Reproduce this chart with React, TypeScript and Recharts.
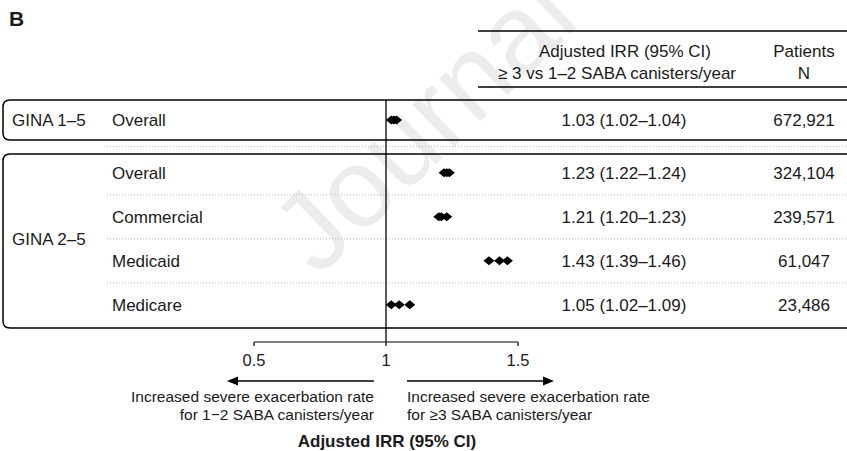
import { Customized, ReferenceLine, Scatter, ScatterChart, XAxis, YAxis } from "recharts";

const GROUP_LABELS = ["GINA 1–5", "GINA 2–5"];
const ROW_GROUP = [0, 1, 1, 1, 1];
const ROW_LABELS = ["Overall", "Overall", "Commercial", "Medicaid", "Medicare"];
const IRR = [1.03, 1.23, 1.21, 1.43, 1.05];
const CI_LOW = [1.02, 1.22, 1.2, 1.39, 1.02];
const CI_HIGH = [1.04, 1.24, 1.23, 1.46, 1.09];
const IRR_TEXT = [
  "1.03 (1.02–1.04)",
  "1.23 (1.22–1.24)",
  "1.21 (1.20–1.23)",
  "1.43 (1.39–1.46)",
  "1.05 (1.02–1.09)",
];
const PATIENTS = ["672,921", "324,104", "239,571", "61,047", "23,486"];
const X_TICKS = [0.5, 1, 1.5];

// layout
const W = 847;
const H = 451;
const FONT = "'Liberation Sans', Arial, Helvetica, sans-serif";
const PLOT_TOP = 100;
const PLOT_BOTTOM = 342;
const PLOT_LEFT = 254;
const PLOT_RIGHT = 518;
const X_AXIS_H = 30;
const FIRST_ROW_Y = 120;
const ROW_PX = 44;
const GROUP_GAP = 0.2;
const COL_IRR = 624;
const COL_N = 804;

const rowPos = ROW_LABELS.map((_, i) => i + GROUP_GAP * ROW_GROUP[i]);
const rowY = (p: number) => FIRST_ROW_Y + p * ROW_PX;
const yDomain = [(PLOT_TOP - FIRST_ROW_Y) / ROW_PX, (PLOT_BOTTOM - FIRST_ROW_Y) / ROW_PX];

const points = rowPos.flatMap((p, i) => [
  { x: CI_LOW[i], y: p },
  { x: IRR[i], y: p },
  { x: CI_HIGH[i], y: p },
]);

const Diamond = (props: any) => {
  const { cx, cy } = props;
  if (cx == null || cy == null) return null;
  const w = 5.5;
  const h = 4.5;
  return <polygon points={`${cx - w},${cy} ${cx},${cy - h} ${cx + w},${cy} ${cx},${cy + h}`} fill="#000" />;
};

const RowTick = (props: any) => {
  const { y, payload } = props;
  const i = rowPos.findIndex((p) => Math.abs(p - payload.value) < 1e-6);
  if (i < 0) return null;
  return (
    <g fontFamily={FONT} fontSize={17} fill="#1a1a1a">
      <text x={112} y={y} dy="0.35em">{ROW_LABELS[i]}</text>
      <text x={COL_IRR} y={y} dy="0.35em" textAnchor="middle">{IRR_TEXT[i]}</text>
      <text x={COL_N} y={y} dy="0.35em" textAnchor="middle">{PATIENTS[i]}</text>
    </g>
  );
};

const boxPath = (top: number, bottom: number) => {
  const l = 3;
  const r = 7;
  return `M ${W} ${top} H ${l + r} Q ${l} ${top} ${l} ${top + r} V ${bottom - r} Q ${l} ${bottom} ${l + r} ${bottom} H ${W}`;
};

const Overlay = () => {
  const seps = rowPos.slice(1).map((p, i) => (rowY(p) + rowY(rowPos[i])) / 2);
  const g2 = rowPos.filter((_, i) => ROW_GROUP[i] === 1);
  const g2Mid = (rowY(g2[0]) + rowY(g2[g2.length - 1])) / 2;
  return (
    <g fontFamily={FONT} fill="#1a1a1a">
      {/* watermark */}
      <text x={318} y={278} fontSize={112} fill="#000" fillOpacity={0.075} transform="rotate(-44 318 278)">
        Journal
      </text>
      <text x={9} y={26} fontSize={21} fontWeight="bold">B</text>

      <line x1={478} x2={W} y1={31} y2={31} stroke="#000" strokeWidth={1.5} />
      <line x1={478} x2={W} y1={87} y2={87} stroke="#000" strokeWidth={1.5} />
      <text x={625} y={57} fontSize={17} textAnchor="middle">Adjusted IRR (95% CI)</text>
      <text x={617} y={79} fontSize={17} textAnchor="middle">≥ 3 vs 1–2 SABA canisters/year</text>
      <text x={COL_N} y={57} fontSize={17} textAnchor="middle">Patients</text>
      <text x={COL_N} y={79} fontSize={17} textAnchor="middle">N</text>

      {seps.map((y, i) => (
        <line key={i} x1={107} x2={W} y1={y} y2={y} stroke="#b5b5b5" strokeWidth={1} strokeDasharray="1 2" />
      ))}

      <path d={boxPath(100, 140)} fill="none" stroke="#000" strokeWidth={1.5} />
      <path d={boxPath(154, 328)} fill="none" stroke="#000" strokeWidth={1.5} />

      <text x={12} y={rowY(rowPos[0])} dy="0.35em" fontSize={17}>{GROUP_LABELS[0]}</text>
      <text x={12} y={g2Mid} dy="0.35em" fontSize={17}>{GROUP_LABELS[1]}</text>

      <line x1={374} x2={236} y1={381} y2={381} stroke="#000" strokeWidth={1.5} />
      <polygon points="227,381 238,376.5 238,385.5" fill="#000" />
      <line x1={407} x2={544} y1={381} y2={381} stroke="#000" strokeWidth={1.5} />
      <polygon points="554,381 543,376.5 543,385.5" fill="#000" />

      <g fontSize={15.5}>
        <text x={374} y={402} textAnchor="end">Increased severe exacerbation rate</text>
        <text x={374} y={420} textAnchor="end">for 1−2 SABA canisters/year</text>
        <text x={407} y={402}>Increased severe exacerbation rate</text>
        <text x={407} y={420}>for ≥3 SABA canisters/year</text>
      </g>
      <text x={387} y={447} fontSize={17} fontWeight="bold" textAnchor="middle">Adjusted IRR (95% CI)</text>
    </g>
  );
};

export default function App() {
  return (
    <div style={{ width: W, height: H, background: "#fff" }}>
      <style>{`body{margin:0;background:#fff}`}</style>
      <ScatterChart
        width={W}
        height={H}
        margin={{ top: PLOT_TOP, right: W - PLOT_RIGHT, bottom: H - PLOT_BOTTOM - X_AXIS_H, left: 0 }}
      >
        <XAxis
          dataKey="x"
          type="number"
          domain={[0.5, 1.5]}
          ticks={X_TICKS}
          allowDataOverflow
          height={X_AXIS_H}
          tickSize={4}
          tickMargin={8}
          interval={0}
          axisLine={{ stroke: "#000", strokeWidth: 1.2 }}
          tickLine={{ stroke: "#000", strokeWidth: 1.2 }}
          tick={{ fill: "#1a1a1a", fontSize: 16.5, fontFamily: FONT }}
        />
        <YAxis
          dataKey="y"
          type="number"
          domain={yDomain}
          reversed
          allowDataOverflow
          ticks={rowPos}
          interval={0}
          width={PLOT_LEFT}
          axisLine={false}
          tickLine={false}
          tick={<RowTick />}
        />
        <Customized component={Overlay} />
        <ReferenceLine x={1} stroke="#000" strokeWidth={1.3} ifOverflow="visible" />
        <Scatter data={points} shape={<Diamond />} isAnimationActive={false} />
      </ScatterChart>
    </div>
  );
}
